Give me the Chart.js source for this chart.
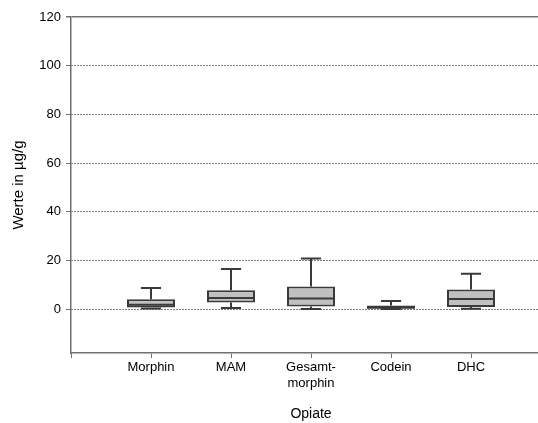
<!DOCTYPE html>
<html>
<head>
<meta charset="utf-8">
<script src="https://cdn.jsdelivr.net/npm/chart.js@4/dist/chart.umd.min.js"></script>
<style>
  html, body { margin: 0; padding: 0; background: #fff; overflow: hidden; }
  #wrap { width: 560px; height: 423px; }
</style>
</head>
<body>
<div id="wrap"><canvas id="chart"></canvas></div>
<script>
// Opiate box plot values (µg/g)
const categories = ['Morphin', 'MAM', ['Gesamt-', 'morphin'], 'Codein', 'DHC'];
const whiskerLow = [0.3, 0.5, 0.1, 0.1, 0.2];
const q1 = [0.7, 2.7, 1.1, 0.4, 0.9];
const median = [1.8, 4.6, 4.4, 0.6, 4.2];
const q3 = [4.1, 7.8, 9.3, 1.5, 8.1];
const whiskerHigh = [8.7, 16.5, 20.8, 3.4, 14.6];
const yTicks = [0, 20, 40, 60, 80, 100, 120];

const FONT = 'Liberation Sans, Arial, sans-serif';
const AXIS_GREY = '#707070';
const BOX_LINE = '#3a3a3a';

// empty slots at both ends so the boxes sit at 1..5 on a 0..6 axis
const labels = [''].concat(categories, ['']);
const boxData = [null].concat(q1.map((v, i) => [v, q3[i]]), [null]);

const whiskerPlugin = {
  id: 'whiskers',
  afterDatasetsDraw(chart) {
    const { ctx, scales: { x, y } } = chart;
    const meta = chart.getDatasetMeta(0);
    ctx.save();
    ctx.strokeStyle = BOX_LINE;
    ctx.lineWidth = 2;
    categories.forEach((c, i) => {
      const bar = meta.data[i + 1];
      const cx = x.getPixelForValue(i + 1);
      const half = bar.width / 2;
      const cap = bar.width * 0.21;
      const yMed = y.getPixelForValue(median[i]);
      const yQ1 = y.getPixelForValue(q1[i]);
      const yQ3 = y.getPixelForValue(q3[i]);
      const yLo = y.getPixelForValue(whiskerLow[i]);
      const yHi = y.getPixelForValue(whiskerHigh[i]);
      ctx.beginPath();
      // median
      ctx.moveTo(cx - half, yMed); ctx.lineTo(cx + half, yMed);
      // whiskers
      ctx.moveTo(cx, yQ3); ctx.lineTo(cx, yHi);
      ctx.moveTo(cx, yQ1); ctx.lineTo(cx, yLo);
      // caps
      ctx.moveTo(cx - cap, yHi); ctx.lineTo(cx + cap, yHi);
      ctx.moveTo(cx - cap, yLo); ctx.lineTo(cx + cap, yLo);
      ctx.stroke();
    });
    ctx.restore();
  }
};

new Chart(document.getElementById('chart'), {
  type: 'bar',
  data: {
    labels,
    datasets: [{
      data: boxData,
      backgroundColor: '#c0c0c0',
      borderColor: BOX_LINE,
      borderWidth: 2,
      borderSkipped: false,
      barPercentage: 0.6,
      categoryPercentage: 1.0
    }]
  },
  options: {
    responsive: true,
    maintainAspectRatio: false,
    animation: false,
    layout: { padding: { top: 17, right: 9, left: 0, bottom: 0 } },
    plugins: { legend: { display: false }, tooltip: { enabled: false } },
    scales: {
      x: {
        offset: false,
        grid: { offset: false, drawOnChartArea: false, drawTicks: true, tickLength: 5, tickColor: AXIS_GREY, tickWidth: 1 },
        border: { color: AXIS_GREY, width: 1.5 },
        ticks: { color: '#000', font: { family: FONT, size: 13 }, padding: 2, maxRotation: 0, autoSkip: false, lineHeight: 1.15 },
        title: { display: true, text: 'Opiate', color: '#000', font: { family: FONT, size: 14 }, padding: { top: 9, bottom: 0 } },
        afterFit: s => { s.height = 70; }
      },
      y: {
        min: -18,
        max: 120,
        afterBuildTicks: axis => { axis.ticks = yTicks.map(v => ({ value: v })); },
        grid: {
          color: c => c.tick && c.tick.value === 120 ? AXIS_GREY : '#000',
          lineWidth: c => c.tick && c.tick.value === 120 ? 1.5 : 1,
          tickLength: 5,
          tickColor: AXIS_GREY
        },
        border: {
          color: AXIS_GREY,
          width: 1.5,
          dash: c => c.tick && c.tick.value === 120 ? [] : [1, 2]
        },
        ticks: { color: '#000', font: { family: FONT, size: 13 }, padding: 5 },
        title: { display: true, text: 'Werte in µg/g', color: '#000', font: { family: FONT, size: 15 }, padding: { top: 10, bottom: 0 } },
        afterFit: s => { s.width = 71; }
      }
    }
  },
  plugins: [whiskerPlugin]
});
</script>
</body>
</html>
